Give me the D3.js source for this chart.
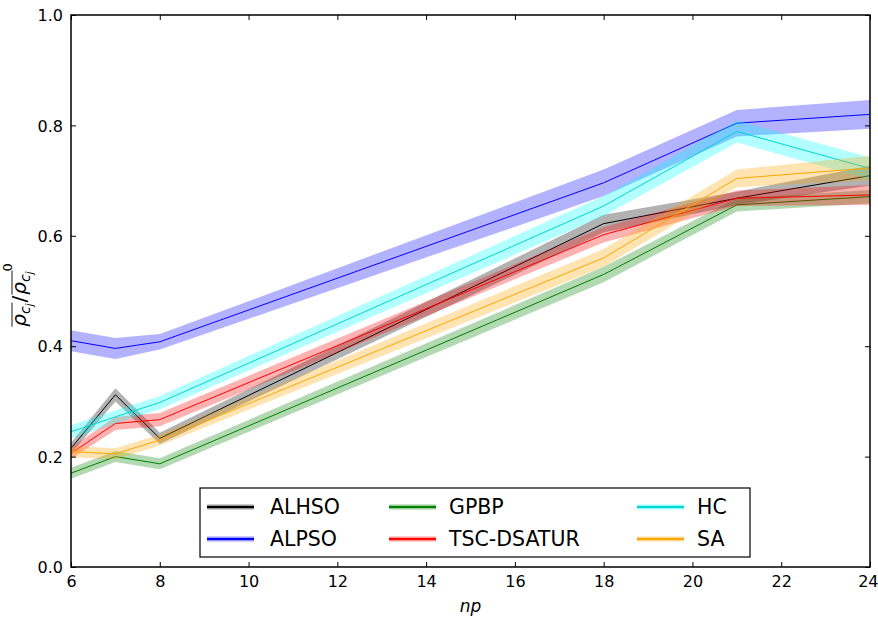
<!DOCTYPE html>
<html>
<head>
<meta charset="utf-8">
<script src="https://cdn.jsdelivr.net/npm/d3@7"></script>
<style>
  html, body { margin: 0; padding: 0; background: #fff; }
  svg { display: block; }
</style>
</head>
<body>
<svg id="chart" width="878" height="618"></svg>
<script>
// Number of partitions on the x axis
const np = [6, 7, 8, 18, 21, 24];

// Mean normalised density per method, and the half-width of its shaded band
const alhso      = [0.215, 0.312, 0.233, 0.622, 0.668, 0.709];
const alhsoSpread = [0.010, 0.012, 0.010, 0.016, 0.012, 0.018];
const alpso      = [0.410, 0.396, 0.408, 0.696, 0.804, 0.820];
const alpsoSpread = [0.019, 0.019, 0.014, 0.024, 0.024, 0.026];
const gpbp       = [0.170, 0.200, 0.187, 0.530, 0.656, 0.671];
const gpbpSpread  = [0.010, 0.010, 0.010, 0.014, 0.012, 0.012];
const tsc        = [0.206, 0.260, 0.267, 0.602, 0.668, 0.674];
const tscSpread   = [0.010, 0.012, 0.012, 0.014, 0.014, 0.018];
const hc         = [0.245, 0.272, 0.298, 0.654, 0.789, 0.722];
const hcSpread    = [0.012, 0.012, 0.012, 0.018, 0.020, 0.020];
const sa         = [0.209, 0.205, 0.230, 0.560, 0.704, 0.723];
const saSpread    = [0.010, 0.010, 0.010, 0.016, 0.016, 0.022];

const seriesNames = ["ALHSO", "ALPSO", "GPBP", "TSC-DSATUR", "HC", "SA"];
const xTicks = [6, 8, 10, 12, 14, 16, 18, 20, 22, 24];
const yTicks = [0.0, 0.2, 0.4, 0.6, 0.8, 1.0];

const series = [
  { name: seriesNames[0], values: alhso, spread: alhsoSpread, line: "#000000", band: "#000000" },
  { name: seriesNames[1], values: alpso, spread: alpsoSpread, line: "#0000ff", band: "#0000ff" },
  { name: seriesNames[2], values: gpbp,  spread: gpbpSpread,  line: "#008000", band: "#008000" },
  { name: seriesNames[3], values: tsc,   spread: tscSpread,   line: "#ff0000", band: "#ff0000" },
  { name: seriesNames[4], values: hc,    spread: hcSpread,    line: "#00d4d4", band: "#00ffff" },
  { name: seriesNames[5], values: sa,    spread: saSpread,    line: "#ffa500", band: "#ffa500" }
];

const font = "DejaVu Sans";
const svg = d3.select("#chart");
const m = { left: 71, right: 870, top: 15, bottom: 567 };

const x = d3.scaleLinear().domain([6, 24]).range([m.left, m.right]);
const y = d3.scaleLinear().domain([0, 1]).range([m.bottom, m.top]);

svg.append("defs").append("clipPath").attr("id", "plotClip")
  .append("rect").attr("x", m.left).attr("y", m.top)
  .attr("width", m.right - m.left).attr("height", m.bottom - m.top);

const plot = svg.append("g").attr("clip-path", "url(#plotClip)");

const area = d3.area()
  .x(d => x(d.x))
  .y0(d => y(d.v - d.s))
  .y1(d => y(d.v + d.s));
const line = d3.line().x(d => x(d.x)).y(d => y(d.v));

series.forEach(s => {
  const pts = np.map((n, i) => ({ x: n, v: s.values[i], s: s.spread[i] }));
  plot.append("path").attr("d", area(pts))
    .attr("fill", s.band).attr("fill-opacity", 0.3).attr("stroke", "none");
  plot.append("path").attr("d", line(pts))
    .attr("fill", "none").attr("stroke", s.line).attr("stroke-width", 1);
});

// Axes: ticks point inward on all four sides
const axB = svg.append("g").attr("transform", `translate(0,${m.bottom})`)
  .call(d3.axisBottom(x).tickValues(xTicks).tickFormat(d3.format("d")).tickSizeInner(-5).tickSizeOuter(0).tickPadding(9));
const axT = svg.append("g").attr("transform", `translate(0,${m.top})`)
  .call(d3.axisTop(x).tickValues(xTicks).tickFormat("").tickSizeInner(-5).tickSizeOuter(0));
const axL = svg.append("g").attr("transform", `translate(${m.left},0)`)
  .call(d3.axisLeft(y).tickValues(yTicks).tickFormat(d3.format(".1f")).tickSizeInner(-5).tickSizeOuter(0).tickPadding(8));
const axR = svg.append("g").attr("transform", `translate(${m.right},0)`)
  .call(d3.axisRight(y).tickValues(yTicks).tickFormat("").tickSizeInner(-5).tickSizeOuter(0));

[axB, axT, axL, axR].forEach(a => {
  a.attr("font-family", font).attr("font-size", 16);
  a.select(".domain").remove();
  a.selectAll(".tick line").attr("stroke", "#000").attr("stroke-width", 1);
  a.selectAll("text").attr("fill", "#000");
});
axL.selectAll("text").attr("dy", "0.35em");
// keep the last x label inside the canvas
axB.selectAll(".tick text").filter(d => d === 24).attr("text-anchor", "end").attr("x", 8);

svg.append("rect")
  .attr("x", m.left).attr("y", m.top)
  .attr("width", m.right - m.left).attr("height", m.bottom - m.top)
  .attr("fill", "none").attr("stroke", "#000").attr("stroke-width", 1.5);

// x-axis title
svg.append("text")
  .attr("x", (m.left + m.right) / 2).attr("y", 612)
  .attr("text-anchor", "middle").attr("font-family", font).attr("font-size", 17)
  .attr("font-style", "italic").text("np");

// y-axis title: overline(rho_cj) / overline(rho_cj)^0, set piece by piece
(function yTitle() {
  const g = svg.append("g").attr("transform", "translate(26,295) rotate(-90)")
    .attr("font-family", font);
  const pieces = [
    { t: "ρ", size: 20, dy: 0, italic: true, ob: 0 },
    { t: "c", size: 14, dy: 4, italic: true, ob: 0 },
    { t: "j", size: 10, dy: 7, italic: true, ob: 0 },
    { t: "/", size: 20, dy: 0, italic: false, gap: 1 },
    { t: "ρ", size: 20, dy: 0, italic: true, ob: 1, gap: 1 },
    { t: "c", size: 14, dy: 4, italic: true, ob: 1 },
    { t: "j", size: 10, dy: 7, italic: true, ob: 1 },
    { t: "0", size: 13, dy: -14, italic: false, gap: 0 }
  ];
  let cx = 0;
  const bars = [{ start: null, end: null }, { start: null, end: null }];
  const nodes = pieces.map(p => {
    cx += p.gap || 0;
    const el = g.append("text").attr("x", cx).attr("y", p.dy)
      .attr("font-size", p.size)
      .attr("font-style", p.italic ? "italic" : "normal").text(p.t);
    const w = el.node().getComputedTextLength();
    if (p.ob !== undefined) {
      if (bars[p.ob].start === null) bars[p.ob].start = cx;
      bars[p.ob].end = cx + w + 1;
    }
    cx += w;
    return el;
  });
  const shift = -cx / 2;
  nodes.forEach(el => el.attr("x", +el.attr("x") + shift));
  bars.forEach(b => {
    g.append("line").attr("x1", b.start + shift).attr("x2", b.end + shift)
      .attr("y1", -14).attr("y2", -14).attr("stroke", "#000").attr("stroke-width", 0.9);
  });
})();

// Legend: three columns, filled column by column
const lg = svg.append("g").attr("font-family", font);
lg.append("rect").attr("x", 200).attr("y", 488).attr("width", 550).attr("height", 69)
  .attr("fill", "#fff").attr("stroke", "#000").attr("stroke-width", 1.2);
const colX = [207, 389, 637];
const labX = [270, 449, 697];
const rowY = [507, 539];
series.forEach((s, i) => {
  const c = Math.floor(i / 2), r = i % 2;
  const hy = rowY[r];
  lg.append("line").attr("x1", colX[c]).attr("x2", colX[c] + 47).attr("y1", hy).attr("y2", hy)
    .attr("stroke", s.band).attr("stroke-opacity", 0.4).attr("stroke-width", 5);
  lg.append("line").attr("x1", colX[c]).attr("x2", colX[c] + 47).attr("y1", hy).attr("y2", hy)
    .attr("stroke", s.line).attr("stroke-width", 2);
  lg.append("text").attr("x", labX[c]).attr("y", hy).attr("dy", "0.35em")
    .attr("font-size", 20.5).text(s.name);
});
</script>
</body>
</html>
